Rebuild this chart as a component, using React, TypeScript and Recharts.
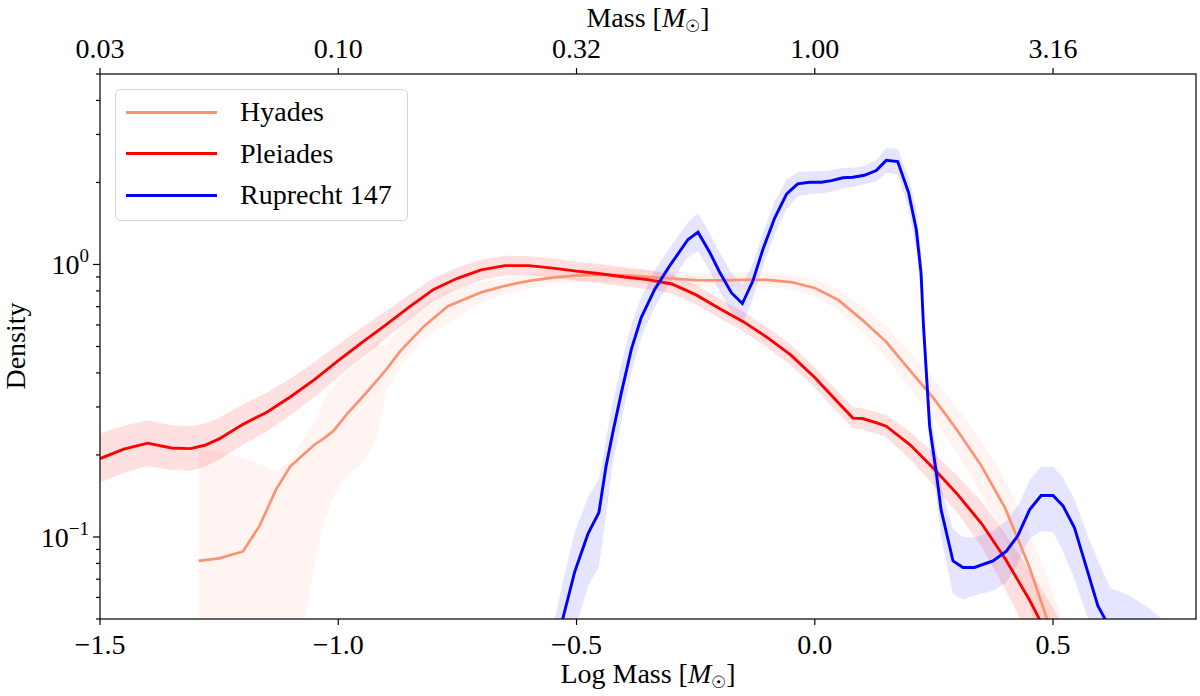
import React from 'react';
import { ComposedChart, Line, Area, XAxis, YAxis, Legend } from 'recharts';

// ---------- axes ----------
const xTicks = [-1.5, -1.0, -0.5, 0.0, 0.5];
const bottomTickLabels = ['−1.5', '−1.0', '−0.5', '0.0', '0.5'];
const topTickLabels = ['0.03', '0.10', '0.32', '1.00', '3.16'];
const yTicks = [0.05, 0.06, 0.07, 0.08, 0.09, 0.1, 0.2, 0.3, 0.4, 0.5, 0.6, 0.7, 0.8, 0.9, 1, 2, 3, 4, 5];
const yMajorTicks = [0.1, 1];
const yMajorExponents = ['−1', '0'];

// ---------- series ----------
const seriesNames = ['Hyades', 'Pleiades', 'Ruprecht 147'];
const seriesColors = ['#fc9272', '#ff0000', '#0000ff'];

const hyadesX = [-1.293, -1.25, -1.2, -1.165, -1.13, -1.1, -1.07, -1.05, -1.03, -1.01, -0.98, -0.95, -0.92, -0.9, -0.87, -0.82, -0.77, -0.7, -0.65, -0.6, -0.55, -0.5, -0.45, -0.4, -0.35, -0.3, -0.25, -0.2, -0.15, -0.1, -0.05, 0.0, 0.05, 0.1, 0.15, 0.2, 0.25, 0.3, 0.35, 0.4, 0.45, 0.5, 0.55];
const hyadesY = [0.0817, 0.0835, 0.0885, 0.11, 0.15, 0.182, 0.203, 0.218, 0.23, 0.245, 0.285, 0.325, 0.373, 0.41, 0.481, 0.594, 0.703, 0.79, 0.835, 0.87, 0.895, 0.912, 0.918, 0.912, 0.9, 0.888, 0.876, 0.874, 0.878, 0.878, 0.862, 0.82, 0.74, 0.625, 0.52, 0.408, 0.322, 0.245, 0.182, 0.127, 0.078, 0.043, 0.022];
const hyadesHi = [0.21, 0.207, 0.195, 0.185, 0.174, 0.19, 0.232, 0.262, 0.315, 0.355, 0.41, 0.445, 0.523, 0.5, 0.595, 0.715, 0.805, 0.86, 0.895, 0.925, 0.95, 0.965, 0.97, 0.965, 0.955, 0.943, 0.932, 0.93, 0.934, 0.935, 0.92, 0.885, 0.81, 0.7, 0.595, 0.475, 0.38, 0.295, 0.225, 0.162, 0.105, 0.062, 0.035];
const hyadesLo = [0.02, 0.02, 0.02, 0.02, 0.02, 0.025, 0.05, 0.08, 0.113, 0.142, 0.168, 0.186, 0.228, 0.34, 0.425, 0.535, 0.61, 0.725, 0.78, 0.815, 0.845, 0.86, 0.866, 0.86, 0.85, 0.838, 0.826, 0.824, 0.828, 0.828, 0.81, 0.765, 0.68, 0.56, 0.455, 0.35, 0.272, 0.2, 0.145, 0.097, 0.056, 0.028, 0.013];

const pleiadesX = [-1.5, -1.45, -1.4, -1.35, -1.31, -1.28, -1.25, -1.2, -1.15, -1.1, -1.05, -1.0, -0.95, -0.9, -0.85, -0.8, -0.75, -0.7, -0.65, -0.6, -0.55, -0.5, -0.45, -0.4, -0.35, -0.3, -0.25, -0.2, -0.15, -0.1, -0.05, 0.0, 0.05, 0.08, 0.1, 0.13, 0.15, 0.2, 0.25, 0.3, 0.35, 0.4, 0.45, 0.5, 0.55];
const pleiadesY = [0.194, 0.21, 0.221, 0.212, 0.211, 0.217, 0.229, 0.259, 0.287, 0.327, 0.378, 0.444, 0.518, 0.6, 0.7, 0.81, 0.89, 0.955, 0.99, 0.99, 0.97, 0.945, 0.925, 0.9, 0.88, 0.848, 0.775, 0.69, 0.617, 0.54, 0.465, 0.385, 0.31, 0.273, 0.272, 0.262, 0.255, 0.218, 0.178, 0.143, 0.112, 0.083, 0.059, 0.04, 0.027];
const pleiadesHi = [0.24, 0.256, 0.268, 0.257, 0.255, 0.261, 0.274, 0.307, 0.338, 0.382, 0.438, 0.51, 0.588, 0.673, 0.778, 0.893, 0.975, 1.04, 1.076, 1.075, 1.053, 1.025, 1.003, 0.976, 0.955, 0.92, 0.842, 0.75, 0.671, 0.588, 0.507, 0.42, 0.339, 0.299, 0.297, 0.287, 0.28, 0.243, 0.203, 0.167, 0.135, 0.102, 0.076, 0.055, 0.038];
const pleiadesLo = [0.158, 0.172, 0.182, 0.176, 0.175, 0.181, 0.192, 0.218, 0.244, 0.28, 0.326, 0.386, 0.456, 0.535, 0.63, 0.735, 0.812, 0.877, 0.911, 0.912, 0.894, 0.871, 0.853, 0.83, 0.811, 0.781, 0.713, 0.635, 0.567, 0.496, 0.427, 0.353, 0.284, 0.25, 0.249, 0.239, 0.232, 0.193, 0.154, 0.122, 0.092, 0.064, 0.043, 0.028, 0.018];

const ruprechtX = [-0.55, -0.529, -0.504, -0.476, -0.453, -0.438, -0.424, -0.406, -0.385, -0.364, -0.336, -0.305, -0.266, -0.245, -0.22, -0.199, -0.175, -0.152, -0.13, -0.109, -0.084, -0.059, -0.036, -0.011, 0.014, 0.035, 0.059, 0.08, 0.104, 0.129, 0.15, 0.174, 0.197, 0.213, 0.223, 0.228, 0.241, 0.255, 0.265, 0.29, 0.311, 0.335, 0.374, 0.402, 0.426, 0.451, 0.475, 0.5, 0.521, 0.545, 0.57, 0.594, 0.62, 0.66, 0.7, 0.74];
const ruprechtY = [0.036, 0.05, 0.0743, 0.1026, 0.123, 0.182, 0.241, 0.338, 0.488, 0.64, 0.81, 0.986, 1.235, 1.314, 1.104, 0.932, 0.788, 0.719, 0.869, 1.135, 1.483, 1.816, 1.976, 2.003, 2.003, 2.031, 2.08, 2.09, 2.125, 2.21, 2.41, 2.386, 1.832, 1.344, 0.932, 0.6, 0.255, 0.172, 0.126, 0.0817, 0.0773, 0.0773, 0.0817, 0.0887, 0.101, 0.126, 0.142, 0.142, 0.13, 0.108, 0.0773, 0.056, 0.046, 0.035, 0.03, 0.025];
const ruprechtHi = [0.046, 0.068, 0.104, 0.14, 0.163, 0.23, 0.31, 0.43, 0.6, 0.76, 0.95, 1.15, 1.43, 1.54, 1.3, 1.1, 0.93, 0.84, 1.01, 1.31, 1.7, 2.05, 2.18, 2.2, 2.2, 2.22, 2.26, 2.27, 2.3, 2.42, 2.68, 2.66, 2.1, 1.6, 1.12, 0.72, 0.31, 0.21, 0.155, 0.107, 0.1, 0.0995, 0.105, 0.115, 0.13, 0.162, 0.181, 0.181, 0.165, 0.137, 0.104, 0.082, 0.065, 0.061, 0.055, 0.048];
const ruprechtLo = [0.02, 0.03, 0.045, 0.066, 0.078, 0.12, 0.185, 0.265, 0.4, 0.54, 0.7, 0.85, 1.06, 1.12, 0.94, 0.79, 0.67, 0.6, 0.75, 0.98, 1.29, 1.6, 1.78, 1.81, 1.82, 1.85, 1.9, 1.92, 1.97, 2.02, 2.17, 2.14, 1.6, 1.13, 0.78, 0.5, 0.21, 0.14, 0.1, 0.0617, 0.059, 0.061, 0.0635, 0.068, 0.08, 0.099, 0.105, 0.104, 0.0887, 0.07, 0.052, 0.04, 0.03, 0.02, 0.02, 0.015];

const build = (xs: number[], ys: number[], lo: number[], hi: number[]) =>
  xs.map((x, i) => ({ x, y: ys[i], band: [lo[i], hi[i]] }));

const hyadesData = build(hyadesX, hyadesY, hyadesLo, hyadesHi);
const pleiadesData = build(pleiadesX, pleiadesY, pleiadesLo, pleiadesHi);
const ruprechtData = build(ruprechtX, ruprechtY, ruprechtLo, ruprechtHi);

const FONT = "'Liberation Serif', 'Times New Roman', serif";
const FS = 28;

const idx = (arr: number[], v: number) => arr.findIndex((a) => Math.abs(a - v) < 1e-9);

const BottomTick = (props: any) => {
  const { x, y, payload } = props;
  const i = idx(xTicks, payload.value);
  return (
    <g>
      <line x1={x} x2={x} y1={y} y2={y + 6} stroke="#000" strokeWidth={1.2} />
      <text x={x} y={y + 35} textAnchor="middle" fontFamily={FONT} fontSize={FS} fill="#000">
        {bottomTickLabels[i]}
      </text>
    </g>
  );
};

const TopTick = (props: any) => {
  const { x, y, payload } = props;
  const i = idx(xTicks, payload.value);
  return (
    <g>
      <line x1={x} x2={x} y1={y - 6} y2={y} stroke="#000" strokeWidth={1.2} />
      <text x={x} y={y - 16} textAnchor="middle" fontFamily={FONT} fontSize={FS} fill="#000">
        {topTickLabels[i]}
      </text>
    </g>
  );
};

const LeftTick = (props: any) => {
  const { x, y, payload } = props;
  const m = idx(yMajorTicks, payload.value);
  const len = m >= 0 ? 7 : 4;
  return (
    <g>
      <line x1={x - len} x2={x} y1={y} y2={y} stroke="#000" strokeWidth={1.2} />
      {m >= 0 && (
        <text x={x - 11} y={y + 10} textAnchor="end" fontFamily={FONT} fontSize={FS} fill="#000">
          10
          <tspan fontSize={19} dy={-12}>
            {yMajorExponents[m]}
          </tspan>
        </text>
      )}
    </g>
  );
};

const LegendBox = () => (
  <div
    style={{
      width: 293,
      height: 132,
      boxSizing: 'border-box',
      border: '1px solid #d4d4d4',
      borderRadius: 5,
      background: 'rgba(255,255,255,0.85)',
      position: 'relative',
      fontFamily: FONT,
      fontSize: FS,
      color: '#000',
    }}
  >
    {seriesNames.map((n, i) => (
      <div key={n} style={{ position: 'absolute', left: 0, top: 22 + i * 41.5 - 16, height: 32, width: 290 }}>
        <div style={{ position: 'absolute', left: 10, top: 14.5, width: 91, height: 3, background: seriesColors[i] }} />
        <div style={{ position: 'absolute', left: 124, top: 0, lineHeight: '32px', whiteSpace: 'nowrap' }}>{n}</div>
      </div>
    ))}
  </div>
);

export default function App() {
  return (
    <div style={{ position: 'absolute', left: 0, top: 0, width: 1200, height: 696, background: '#fff' }}>
      <ComposedChart width={1200} height={696} margin={{ top: 14, right: 4, bottom: 17, left: 10 }}>
        <XAxis
          xAxisId="bottom"
          type="number"
          dataKey="x"
          domain={[-1.5, 0.8]}
          allowDataOverflow
          ticks={xTicks}
          interval={0}
          height={60}
          tickSize={0}
          tickMargin={0}
          tickLine={false}
          axisLine={false}
          tick={<BottomTick />}
        />
        <XAxis
          xAxisId="top"
          orientation="top"
          type="number"
          dataKey="x"
          domain={[-1.5, 0.8]}
          allowDataOverflow
          ticks={xTicks}
          interval={0}
          height={60}
          tickSize={0}
          tickMargin={0}
          tickLine={false}
          axisLine={false}
          tick={<TopTick />}
        />
        <YAxis
          yAxisId="left"
          type="number"
          scale="log"
          domain={[0.05, 5]}
          allowDataOverflow
          ticks={yTicks}
          interval={0}
          width={90}
          tickSize={0}
          tickMargin={0}
          tickLine={false}
          axisLine={false}
          tick={<LeftTick />}
        />
        <Area data={hyadesData} xAxisId="bottom" yAxisId="left" dataKey="band" type="linear" stroke="none" fill={seriesColors[0]} fillOpacity={0.1} isAnimationActive={false} legendType="none" />
        <Line data={hyadesData} xAxisId="bottom" yAxisId="left" dataKey="y" name={seriesNames[0]} type="linear" stroke={seriesColors[0]} strokeWidth={2.7} dot={false} isAnimationActive={false} />
        <Area data={pleiadesData} xAxisId="bottom" yAxisId="left" dataKey="band" type="linear" stroke="none" fill={seriesColors[1]} fillOpacity={0.12} isAnimationActive={false} legendType="none" />
        <Line data={pleiadesData} xAxisId="bottom" yAxisId="left" dataKey="y" name={seriesNames[1]} type="linear" stroke={seriesColors[1]} strokeWidth={2.9} dot={false} isAnimationActive={false} />
        <Area data={ruprechtData} xAxisId="bottom" yAxisId="left" dataKey="band" type="linear" stroke="none" fill={seriesColors[2]} fillOpacity={0.1} isAnimationActive={false} legendType="none" />
        <Line data={ruprechtData} xAxisId="bottom" yAxisId="left" dataKey="y" name={seriesNames[2]} type="linear" stroke={seriesColors[2]} strokeWidth={2.9} dot={false} isAnimationActive={false} />
        <Legend
          layout="horizontal"
          align="center"
          verticalAlign="middle"
          content={() => <LegendBox />}
          wrapperStyle={{ position: 'absolute', left: 115, top: 89, width: 293, height: 132 }}
        />
      </ComposedChart>
      <svg width={1200} height={696} style={{ position: 'absolute', left: 0, top: 0, pointerEvents: 'none' }}>
        <rect x={100} y={74} width={1096} height={545} fill="none" stroke="#111" strokeWidth={1.3} />
        <text x={648} y={27} textAnchor="middle" fontFamily={FONT} fontSize={FS} fill="#000">
          Mass [<tspan fontStyle="italic">M</tspan>
          <tspan fontSize={17} dy={5}>☉</tspan>
          <tspan dy={-5}>]</tspan>
        </text>
        <text x={648} y={683} textAnchor="middle" fontFamily={FONT} fontSize={FS} fill="#000">
          Log Mass [<tspan fontStyle="italic">M</tspan>
          <tspan fontSize={17} dy={5}>☉</tspan>
          <tspan dy={-5}>]</tspan>
        </text>
        <text transform="translate(25,346) rotate(-90)" textAnchor="middle" fontFamily={FONT} fontSize={FS} fill="#000">
          Density
        </text>
      </svg>
    </div>
  );
}
